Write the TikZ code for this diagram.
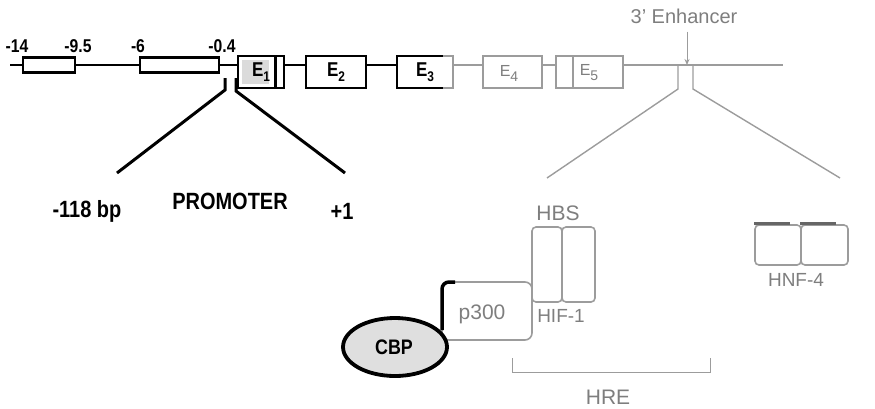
\documentclass[tikz,border=0pt]{standalone}
\usepackage{fontspec}
\setmainfont{Liberation Sans}
\newfontfamily\narrowbf[FakeStretch=0.85,UprightFont=*-Bold]{Liberation Sans}
\usetikzlibrary{arrows.meta,calc,shapes.geometric}
\definecolor{lg}{HTML}{9C9C9C}
\definecolor{tg}{HTML}{7E7E7E}
\newcommand{\exlab}[1]{E\raisebox{-5pt}{\fontsize{14}{14}\selectfont #1}}
\begin{document}
\begin{tikzpicture}[x=1pt,y=-1pt,
  blk/.style={draw=black,line width=2.6pt},
  gry/.style={draw=lg,line width=1.4pt},
  box/.style={rectangle,inner sep=0pt,outer sep=0pt,fill=white},
  toplab/.style={inner sep=0pt,font=\fontsize{18.5}{18.5}\narrowbf},
  biglab/.style={inner sep=0pt,font=\fontsize{23.5}{23.5}\narrowbf},
  glab/.style={inner sep=0pt,text=tg,font=\fontsize{18}{18}\selectfont},
  exb/.style={inner sep=0pt,font=\fontsize{20}{20}\narrowbf},
  exg/.style={inner sep=0pt,text=tg,font=\fontsize{16}{16}\selectfont},
  rbox/.style={rectangle,rounded corners=4pt,draw=lg,line width=1.6pt,inner sep=0pt,outer sep=0pt}
]
\useasboundingbox (0,0) rectangle (875,408);

% main line
\coordinate (start) at (10,65);
\coordinate (lend) at (783,65);
\coordinate (enh) at (687,65);
\node[box,minimum width=56,minimum height=32,fill=none] (e3) at (425,72) {};
\draw[blk] (start) -- (e3.west |- start);
\draw[gry] (e3.east |- start) -- (lend);

% promoter boxes
\node[box,blk,minimum width=52,minimum height=15] (b1) at (49,65) {};
\node[box,blk,minimum width=79,minimum height=15] (b2) at (179.5,65) {};
\node[toplab] (l14) at (17,46) {-14};
\node[toplab] (l95) at (78,46) {-9.5};
\node[toplab] (l6) at (138,46) {-6};
\node[toplab] (l04) at (222,46) {-0.4};

% exons
\node[box,blk,minimum width=46,minimum height=32] (e1) at (261,72) {};
\fill[gray!28] ($(e1.north west)+(4,4)$) rectangle ($(e1.south west)+(31,-4)$);
\draw[black,line width=3pt] ($(e1.north east)+(-9,1)$) -- ($(e1.south east)+(-9,-1)$);
\node[exb] (e1l) at (261,72) {\exlab{1}};
\node[box,blk,minimum width=60,minimum height=32] (e2) at (336,72) {};
\node[exb] (e2l) at (336,72) {\exlab{2}};
\fill[white] (e3.north west) rectangle (e3.south east);
\draw[blk] ($(e3.north east)+(-10,0)$) -- (e3.north west) -- (e3.south west) -- ($(e3.south east)+(-10,0)$);
\draw[gry] ($(e3.north east)+(-10,0)$) -- (e3.north east) -- (e3.south east) -- ($(e3.south east)+(-10,0)$);
\node[exb] (e3l) at (425,72) {\exlab{3}};
\node[box,gry,minimum width=59,minimum height=32] (e4) at (512.5,72) {};
\node[exg] (e4l) at (509,73) {\exlab{4}};
\node[box,gry,minimum width=67,minimum height=32] (e5) at (589.5,72) {};
\draw[gry] ($(e5.north west)+(17,0)$) -- ($(e5.south west)+(17,0)$);
\node[exg] (e5l) at (589,73) {\exlab{5}};

% enhancer
\node[glab,font=\fontsize{20}{20}\selectfont] (enht) at (684,16) {3' Enhancer};
\draw[lg,line width=1pt,-{Stealth[length=6pt,width=5pt]}] (enht.south -| enh) ++(0,8) -- (enh);

% promoter expansion
\coordinate (pl0) at (225,78);
\coordinate (pl1) at (225,90);
\coordinate (pl2) at (117,173);
\coordinate (pr0) at (236,78);
\coordinate (pr1) at (236,91);
\coordinate (pr2) at (345,173);
\draw[black,line width=3pt] (pl0) -- (pl1) -- (pl2);
\draw[black,line width=3pt] (pr0) -- (pr1) -- (pr2);
\node[biglab] (prom) at (230,201) {PROMOTER};
\node[biglab] (m118) at (87,211) {-118 bp};
\node[biglab] (p1) at (342,211) {+1};

% enhancer expansion
\coordinate (el0) at (678,66);
\coordinate (el1) at (678,89);
\coordinate (el2) at (547,178);
\coordinate (er0) at (693,66);
\coordinate (er1) at (693,89);
\coordinate (er2) at (840,178);
\draw[gry] (el0) -- (el1) -- (el2);
\draw[gry] (er0) -- (er1) -- (er2);

% HIF-1 / HBS
\node[rbox,minimum width=30,minimum height=75] (h1) at (547,264.5) {};
\node[rbox,minimum width=33,minimum height=75] (h2) at (578.5,264.5) {};
\node[glab,font=\fontsize{21}{21}\selectfont] (hbs) at (558,213) {HBS};
\node[glab,font=\fontsize{19}{19}\selectfont] (hif) at (561,316) {HIF-1};

% p300
\node[rbox,rounded corners=7pt,minimum width=90,minimum height=58] (p300) at (487,311) {};
\draw[black,line width=3.5pt] ($(p300.south west)+(0,-10)$) -- ($(p300.north west)+(0,7)$) arc[start angle=180,end angle=270,radius=7] -- ++(6,0);
\node[glab,font=\fontsize{21}{21}\selectfont] (p300l) at (482,314) {p300};

% CBP
\node[ellipse,draw=black,line width=3.8pt,fill=gray!25,minimum width=104,minimum height=58,inner sep=0pt] (cbp) at (395,347) {};
\node[inner sep=0pt,font=\fontsize{21}{21}\narrowbf] (cbpl) at (394,347) {CBP};

% HRE bracket
\coordinate (hre1) at (512,358);
\coordinate (hre2) at (710,358);
\draw[lg,line width=1pt] (hre1) -- (hre1 |- 0,372) -- (hre2 |- 0,372) -- (hre2);
\node[glab,font=\fontsize{21}{21}\selectfont] (hre) at (608,397) {HRE};

% HNF-4
\node[rbox,minimum width=46,minimum height=40] (n1) at (778,245) {};
\node[rbox,minimum width=47,minimum height=40] (n2) at (824.5,245) {};
\draw[gray!80!black,line width=2.2pt] ($(n1.north west)+(-1,-1.5)$) -- ($(n1.north west)+(35,-1.5)$);
\draw[gray!80!black,line width=2.2pt] ($(n2.north west)+(-1,-1.5)$) -- ($(n2.north west)+(35,-1.5)$);
\node[glab,font=\fontsize{19}{19}\selectfont] (hnf) at (796,280) {HNF-4};
\end{tikzpicture}
\end{document}
